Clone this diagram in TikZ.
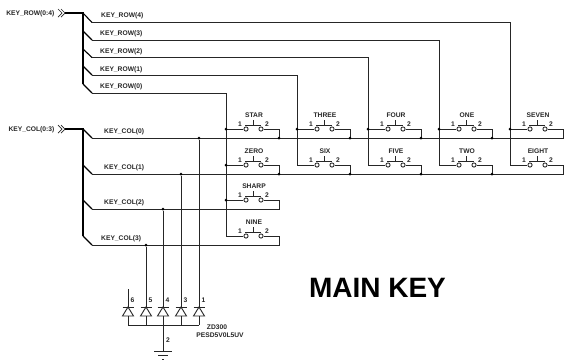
\documentclass[tikz,border=0pt]{standalone}
\usepackage{fontspec}
\setmainfont{Liberation Sans}
\tikzset{
  wire/.style={draw=black!85,line width=0.9pt},
  bus/.style={draw=black,line width=1.4pt},
  lab/.style={inner sep=0pt,font=\fontsize{6.7}{7}\selectfont\bfseries,text=black!85},
  pinlab/.style={inner sep=0pt,font=\fontsize{6.7}{7}\selectfont\bfseries,text=black!85},
  jdot/.style={circle,fill=black,inner sep=0pt,minimum size=3pt},
  pinhole/.style={circle,draw=black!85,line width=0.85pt,fill=white,inner sep=0pt,minimum size=4.2pt},
}
% #1 prefix, #2 x of left end, #3 wire y, #4 name
\newcommand{\keysw}[4]{%
  \coordinate (#1in) at (#2,#3);
  \coordinate (#1out) at (#2+53,#3);
  \node[pinhole] (#1a) at (#2+20,#3) {};
  \node[pinhole] (#1b) at (#2+35,#3) {};
  \coordinate (#1pa) at (#2+19,#3-3.5);
  \coordinate (#1pb) at (#2+35,#3-3.5);
  \coordinate (#1pm) at (#2+27,#3-3.5);
  \coordinate (#1pt) at (#2+27,#3-9);
  \draw[wire] (#1in) -- (#1a);
  \draw[wire] (#1b) -- (#1out);
  \draw[wire] (#1pa) -- (#1pb);
  \draw[wire] (#1pm) -- (#1pt);
  \node[pinlab] (#1n1) at (#2+14,#3-5) {1};
  \node[pinlab] (#1n2) at (#2+41,#3-5) {2};
  \node[lab] (#1name) at (#2+28,#3-14) {#4};
}
% #1 name, #2 x, #3 pin number
\newcommand{\esd}[3]{%
  \coordinate (#1top) at (#2,307);
  \coordinate (#1tl) at (#2-5.5,307);
  \coordinate (#1tr) at (#2+5.5,307);
  \coordinate (#1bl) at (#2-5.5,316);
  \coordinate (#1br) at (#2+5.5,316);
  \coordinate (#1bot) at (#2,316);
  \coordinate (#1rail) at (#2,325);
  \draw[wire] (#1tl) -- (#1tr);
  \draw[wire] (#1top) -- (#1bl) -- (#1br) -- cycle;
  \draw[wire] (#1bot) -- (#1rail);
  \node[pinlab] (#1num) at (#2+4.5,300) {#3};
}
\begin{document}
\begin{tikzpicture}[x=1pt,y=-1pt]
\useasboundingbox (0,0) rectangle (571,360);
\fill[white] (0,0) rectangle (571,360);

% Buses
\node[lab,anchor=east] (rowlab) at (54.5,14) {KEY\_ROW(0:4)};
\node[lab,anchor=east] (collab) at (54.5,129.5) {KEY\_COL(0:3)};
\coordinate (rowp) at (65,13);
\coordinate (colp) at (65,129);
\draw[wire,line width=0.7pt] (58,9) -- (62,13) -- (58,17) (61,9) -- (65,13) -- (61,17);
\draw[wire,line width=0.7pt] (58,125) -- (62,129) -- (58,133) (61,125) -- (65,129) -- (61,133);
\coordinate (rb0) at (83,13);
\coordinate (rb1) at (83,31);
\coordinate (rb2) at (83,49);
\coordinate (rb3) at (83,66);
\coordinate (rb4) at (83,84);
\coordinate (cb0) at (83,129);
\coordinate (cb1) at (83,165);
\coordinate (cb2) at (83,200);
\coordinate (cb3) at (83,236);
\draw[bus] (rowp) -- (rb0) -- (rb4);
\draw[bus] (colp) -- (cb0) -- (cb3);

% Row entries
\coordinate (r4) at (92,22.5);
\coordinate (r3) at (92,40);
\coordinate (r2) at (92,57.5);
\coordinate (r1) at (92,75);
\coordinate (r0) at (92,93);
\draw[bus,line width=1.1pt] (rb0) -- (r4);
\draw[bus,line width=1.1pt] (rb1) -- (r3);
\draw[bus,line width=1.1pt] (rb2) -- (r2);
\draw[bus,line width=1.1pt] (rb3) -- (r1);
\draw[bus,line width=1.1pt] (rb4) -- (r0);
\node[lab,anchor=west] (rl4) at (101,16) {KEY\_ROW(4)};
\node[lab,anchor=west] (rl3) at (100,34) {KEY\_ROW(3)};
\node[lab,anchor=west] (rl2) at (100,51.5) {KEY\_ROW(2)};
\node[lab,anchor=west] (rl1) at (100,69.5) {KEY\_ROW(1)};
\node[lab,anchor=west] (rl0) at (100,87) {KEY\_ROW(0)};

% Column entries
\coordinate (c0) at (92,138);
\coordinate (c1) at (92,174);
\coordinate (c2) at (92,209);
\coordinate (c3) at (92,245);
\draw[bus,line width=1.1pt] (cb0) -- (c0);
\draw[bus,line width=1.1pt] (cb1) -- (c1);
\draw[bus,line width=1.1pt] (cb2) -- (c2);
\draw[bus,line width=1.1pt] (cb3) -- (c3);
\node[lab,anchor=west] (cl0) at (104,131.5) {KEY\_COL(0)};
\node[lab,anchor=west] (cl1) at (104,167.5) {KEY\_COL(1)};
\node[lab,anchor=west] (cl2) at (104,202.5) {KEY\_COL(2)};
\node[lab,anchor=west] (cl3) at (101,238.5) {KEY\_COL(3)};

% Switches
\keysw{star}{226}{129}{STAR}
\keysw{zero}{226}{165}{ZERO}
\keysw{sharp}{226}{200}{SHARP}
\keysw{nine}{226}{236}{NINE}
\keysw{three}{297}{129}{THREE}
\keysw{six}{297}{165}{SIX}
\keysw{four}{368}{129}{FOUR}
\keysw{five}{368}{165}{FIVE}
\keysw{one}{439}{129}{ONE}
\keysw{two}{439}{165}{TWO}
\keysw{seven}{510}{129}{SEVEN}
\keysw{eight}{510}{165}{EIGHT}

% Row wires
\draw[wire] (r0) -| (ninein);
\draw[wire] (r1) -| (sixin);
\draw[wire] (r2) -| (fivein);
\draw[wire] (r3) -| (twoin);
\draw[wire] (r4) -| (eightin);

% Column wires
\coordinate (c0end) at (563,138);
\coordinate (c1end) at (563,174);
\coordinate (c2end) at (279,209);
\coordinate (c3end) at (279,245);
\draw[wire] (c0) -- (c0end) -- (sevenout);
\draw[wire] (c1) -- (c1end) -- (eightout);
\draw[wire] (c2) -- (c2end) -- (sharpout);
\draw[wire] (c3) -- (c3end) -- (nineout);
\foreach \k/\x/\y in {star/279/138,three/350/138,four/421/138,one/492/138,
                      zero/279/174,six/350/174,five/421/174,two/492/174}{
  \draw[wire] (\k out) -- (\x,\y);
  \node[jdot] at (\x,\y) {};
}
% Row junctions
\foreach \k in {star,zero,sharp,three,four,one,seven}{
  \node[jdot] at (\k in) {};
}

% ESD array
\esd{da}{128}{6}
\esd{db}{146}{5}
\esd{dc}{163}{4}
\esd{dd}{181}{3}
\esd{de}{199}{1}
\coordinate (dastub) at (128,289);
\node[jdot] (j3) at (146,245) {};
\node[jdot] (j2) at (163,209) {};
\node[jdot] (j1) at (181,174) {};
\node[jdot] (j0) at (199,138) {};
\draw[wire] (dastub) -- (datop);
\draw[wire] (j3) -- (dbtop);
\draw[wire] (j2) -- (dctop);
\draw[wire] (j1) -- (ddtop);
\draw[wire] (j0) -- (detop);
\draw[wire] (darail) -- (derail);
\coordinate (gnd) at (163,351);
\draw[wire] (dcrail) -- (gnd);
\draw[wire] (154,351) -- (172,351);
\draw[wire] (158,355.5) -- (168,355.5);
\draw[wire] (162,359.5) -- (164,359.5);
\node[pinlab] (gpin) at (168,340.5) {2};
\node[lab] (zd) at (217,327.5) {ZD300};
\node[lab] (pn) at (220,335) {PESD5V0L5UV};

\node[inner sep=0pt,font=\fontsize{28}{32}\selectfont\bfseries] (title) at (377.5,288) {MAIN KEY};
\end{tikzpicture}
\end{document}
